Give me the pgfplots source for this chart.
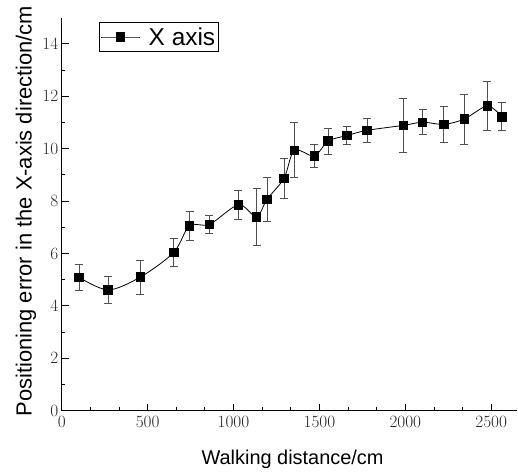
\documentclass[border=0pt]{standalone}
\usepackage{pgfplots}
\usepackage{fontspec}
\setmainfont{Liberation Sans}
\pgfplotsset{compat=1.18}
\definecolor{ErrGray}{HTML}{505050}

\pgfplotstableread{
x     y     e
101   5.09  0.50
270   4.61  0.52
458   5.10  0.65
652   6.04  0.55
744   7.06  0.55
860   7.11  0.36
1029  7.86  0.55
1134  7.40  1.09
1195  8.07  0.85
1294  8.87  0.75
1354  9.94  1.05
1470  9.72  0.43
1550  10.29 0.50
1659  10.50 0.35
1777  10.70 0.46
1989  10.89 1.02
2100  11.01 0.47
2224  10.93 0.69
2343  11.13 0.95
2477  11.63 0.95
2562  11.22 0.53
}\xerr

\begin{document}
\begin{tikzpicture}
\begin{axis}[
  name=ax,
  scale only axis,
  width=455.3bp, height=393bp,
  xmin=0, xmax=2650,
  ymin=0, ymax=15,
  axis lines=left,
  axis line style={-, line width=1.1bp},
  tick align=inside,
  tick style={black, line width=0.9bp},
  major tick length=7bp,
  minor tick length=3.5bp,
  xtick={0,500,...,2500},
  ytick={0,2,...,14},
  minor x tick num=2,
  minor y tick num=1,
  ticklabel style={font=\fontsize{17}{19}\selectfont, text=black!85},
  xticklabel style={yshift=-2bp},
  scaled x ticks=false,
  xticklabel={\pgfmathprintnumber[fixed,1000 sep={}]{\tick}},
  xlabel={Walking distance/cm},
  ylabel={Positioning error in the X-axis direction/cm},
  xlabel style={font=\fontsize{20}{24}\selectfont, at={(axis description cs:0.507,-0.138)}, anchor=base},
  ylabel style={font=\fontsize{22}{24}\selectfont, at={(axis description cs:-0.066,0.508)}, anchor=base, rotate=0},
  legend style={at={(axis description cs:0.082,0.989)}, anchor=north west,
    draw=black, line width=0.8bp, inner xsep=1.5bp, inner ysep=3bp,
    font=\fontsize{24.5}{26}\selectfont,
    /tikz/every odd column/.append style={column sep=7bp}},
  legend cell align=left,
  legend image code/.code={\draw[mark repeat=2, mark phase=2, #1] plot coordinates {(0bp,0bp) (19bp,0bp) (38bp,0bp)};},
  clip=false,
]
\addplot[black, line width=0.8bp, smooth, tension=0.5,
  mark=square*, mark size=4.2bp, mark options={black, solid},
  error bars/.cd, y dir=both, y explicit,
  error bar style={ErrGray, line width=0.9bp},
  error mark options={ErrGray, rotate=90, mark size=4bp, line width=0.9bp}]
  table[x=x, y=y, y error=e] {\xerr};
\addlegendentry{X axis}
\end{axis}
\pgfresetboundingbox
\path (ax.south west) ++(-61.7bp,-61.3bp) rectangle ++(518bp,472bp);
\end{tikzpicture}
\end{document}
